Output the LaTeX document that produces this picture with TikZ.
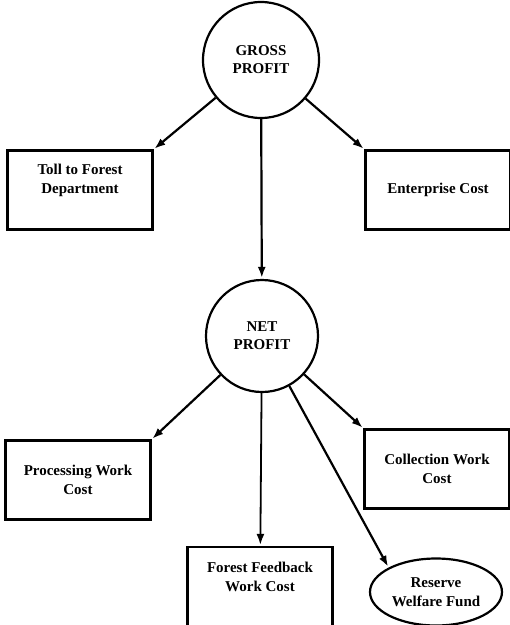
\documentclass[tikz,border=0pt]{standalone}
\usepackage{fontspec}
\setmainfont{Liberation Serif}
\usetikzlibrary{shapes.geometric,arrows.meta}
\begin{document}
\begin{tikzpicture}[x=1pt,y=-1pt,->,>={Latex[length=11pt,width=8pt]},shorten >=1pt,line width=2.2pt,
            main node/.style={circle,draw,minimum size=116pt,inner sep=0pt,align=center,
                font=\fontsize{15}{18}\selectfont\bfseries},
            cost node/.style={rectangle,draw,minimum width=145pt,minimum height=79pt,align=center,
                font=\fontsize{15}{19}\selectfont\bfseries},
            fund node/.style={ellipse,draw,minimum width=132pt,minimum height=67pt,inner sep=0pt,align=center,
                font=\fontsize{15}{19}\selectfont\bfseries}]

        \useasboundingbox (0,0) rectangle (510,625);

        % Define vertices
        \node[main node] (gross) at (261,60) {GROSS\\PROFIT};
        \node[cost node] (toll) at (80,190) {Toll to Forest\\Department\\[4pt]};
        \node[cost node] (enterprise) at (438,190) {Enterprise Cost};
        \node[main node,minimum size=112pt] (net) at (262,336) {NET\\PROFIT};
        \node[cost node] (processing) at (78,480) {Processing Work\\Cost};
        \node[cost node] (collection) at (437,469) {Collection Work\\Cost};
        \node[cost node,minimum height=85pt] (feedback) at (260,589.5) {Forest Feedback\\Work Cost\\[6pt]};
        \node[fund node] (reserve) at (436,592) {Reserve\\Welfare Fund};

        % Draw edges
        \path
            (gross) edge (toll.north east)
            (gross) edge (enterprise.north west)
            (gross) edge (net)
            (net) edge (processing.north east)
            (net) edge (collection.north west)
            (net) edge[line width=1.8pt] (feedback)
            (net) edge (reserve.north west);

\end{tikzpicture}
\end{document}
